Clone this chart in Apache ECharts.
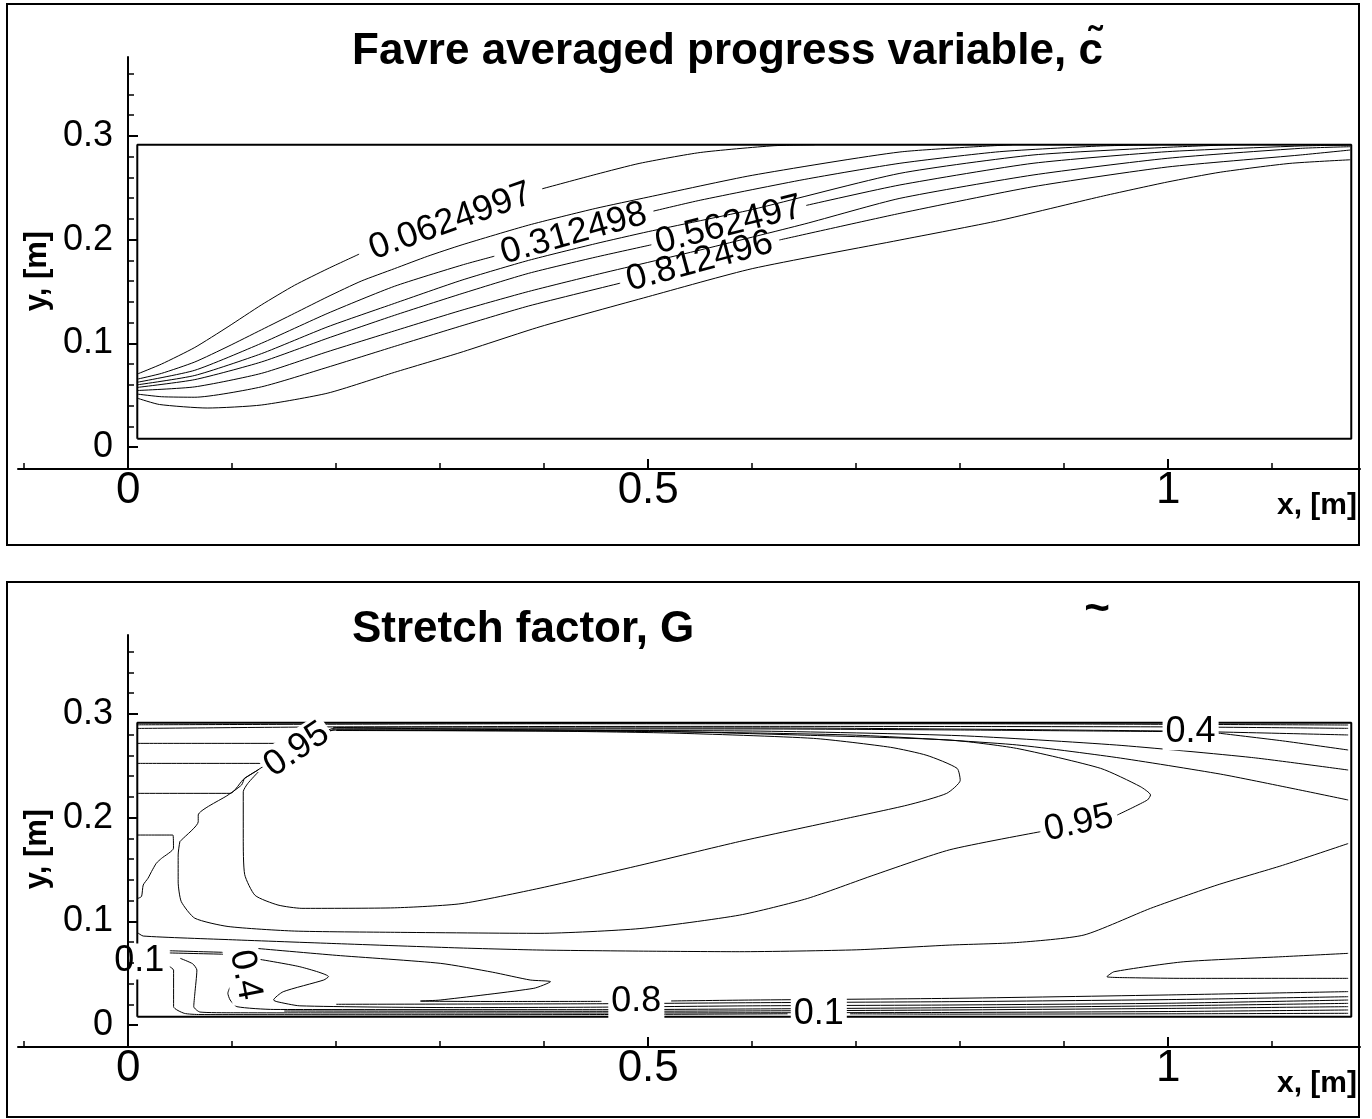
<!DOCTYPE html>
<html>
<head>
<meta charset="utf-8">
<script src="https://cdn.jsdelivr.net/npm/echarts@6.0.0/dist/echarts.min.js"></script>
<style>
  html, body { margin: 0; padding: 0; background: #fff; }
  #chart { width: 1372px; height: 1119px; }
</style>
</head>
<body>
<div id="chart"></div>
<script>
// ---------------- axes ----------------
const xRange = [-0.106, 1.1844];
const yRange = [-0.0212, 0.3761];
const xMajorTicks = [0, 0.5, 1];
const xMinorTicks = [-0.1, 0.1, 0.2, 0.3, 0.4, 0.6, 0.7, 0.8, 0.9, 1.1];
const yMajorTicks = [0, 0.1, 0.2, 0.3];
const yMinorTicks = [0.02, 0.04, 0.06, 0.08, 0.12, 0.14, 0.16, 0.18, 0.22, 0.24, 0.26, 0.28, 0.32, 0.34, 0.36];

// computational domain (channel walls), metres
const domainX = [0.0087, 1.176];
const domainY = [0.008, 0.2915];

// ---------------- Favre averaged progress variable: iso-lines ----------------
// each iso-line is a list of segments; a gap between segments holds its label
const cLine1 = [
  [[0.009,0.0705],[0.032,0.080],[0.064,0.096],[0.096,0.116],[0.128,0.137],[0.160,0.156],[0.192,0.172],[0.222,0.186]],
  [[0.398,0.249],[0.45,0.263],[0.492,0.2736],[0.55,0.284],[0.62,0.2905],[0.66,0.2915]]
];
const cLine2 = [
  [[0.009,0.0655],[0.032,0.071],[0.064,0.082],[0.096,0.097],[0.128,0.113],[0.160,0.129],[0.192,0.145],[0.224,0.160],[0.256,0.172],[0.288,0.184],[0.321,0.195],[0.385,0.214],[0.449,0.230],[0.5,0.241],[0.6,0.262],[0.742,0.2845],[0.85,0.2915]]
];
const cLine3 = [
  [[0.009,0.0625],[0.064,0.074],[0.128,0.100],[0.192,0.129],[0.256,0.155],[0.321,0.1755],[0.352,0.184]],
  [[0.505,0.2275],[0.55,0.238],[0.65,0.258],[0.742,0.2736],[0.838,0.2848],[0.935,0.2903],[0.99,0.2915]]
];
const cLine4 = [
  [[0.009,0.060],[0.064,0.069],[0.128,0.090],[0.192,0.116],[0.256,0.1385],[0.321,0.161],[0.385,0.180],[0.449,0.196],[0.5,0.2077],[0.6,0.229],[0.742,0.2639],[0.87,0.2816],[0.999,0.289],[1.06,0.2915]]
];
const cLine5 = [
  [[0.009,0.0575],[0.064,0.065],[0.128,0.082],[0.192,0.105],[0.256,0.127],[0.321,0.148],[0.385,0.1675],[0.449,0.183],[0.503,0.195]],
  [[0.652,0.233],[0.742,0.2527],[0.870,0.2736],[0.999,0.2848],[1.127,0.2903],[1.175,0.2912]]
];
const cLine6 = [
  [[0.009,0.0545],[0.064,0.058],[0.128,0.071],[0.192,0.092],[0.256,0.112],[0.321,0.132],[0.385,0.150],[0.449,0.166],[0.55,0.190],[0.65,0.215],[0.742,0.2398],[0.870,0.2623],[0.999,0.2784],[1.127,0.288],[1.175,0.2896]]
];
const cLine7 = [
  [[0.009,0.051],[0.032,0.0485],[0.064,0.048],[0.128,0.058],[0.192,0.077],[0.256,0.097],[0.321,0.117],[0.385,0.136],[0.473,0.158]],
  [[0.626,0.1996],[0.742,0.2253],[0.870,0.251],[0.999,0.270],[1.127,0.2816],[1.175,0.2864]]
];
const cLine8 = [
  [[0.009,0.047],[0.03,0.041],[0.076,0.0376],[0.128,0.0405],[0.192,0.052],[0.256,0.072],[0.319,0.091],[0.396,0.116],[0.5,0.145],[0.6,0.172],[0.742,0.1996],[0.838,0.2185],[0.935,0.2415],[0.999,0.2555],[1.05,0.265],[1.117,0.2735],[1.175,0.277]]
];
const cLines = [cLine1, cLine2, cLine3, cLine4, cLine5, cLine6, cLine7, cLine8];
const cLabels = [
  { text: '0.0624997', line: cLine1, gap: 0 },
  { text: '0.312498',  line: cLine3, gap: 0 },
  { text: '0.562497',  line: cLine5, gap: 0 },
  { text: '0.812496',  line: cLine7, gap: 0 }
];

// ---------------- Stretch factor: iso-lines ----------------
// bands hugging the upper wall
const gTopA = [[[0.009,0.2895],[0.4,0.2905],[0.8,0.2905],[1.173,0.2893]]];
const gTopB = [[[0.009,0.2860],[0.2,0.2875],[0.6,0.288],[1.0,0.2875],[1.173,0.2861]]];
const gTopC = [[[0.009,0.2716],[0.16,0.2716],[0.2,0.2865],[0.6,0.2865],[1.0,0.2835],[1.173,0.2797]]];
const gTopD = [
  [[0.009,0.2523],[0.15,0.2523],[0.2,0.2855],[0.6,0.2855],[0.8,0.2845],[0.995,0.2830]],
  [[1.048,0.2815],[1.11,0.2740],[1.173,0.2652]]
];
const gTopE = [[[0.009,0.2234],[0.098,0.2234],[0.112,0.238],[0.2,0.2845],[0.6,0.2835],[0.8,0.279],[0.95,0.270],[1.08,0.258],[1.173,0.2459]]];
const gTopF = [[[0.2,0.2840],[0.5,0.283],[0.7,0.2795],[0.85,0.2705],[0.95,0.258],[1.05,0.242],[1.12,0.228],[1.173,0.217]]];
const gPocket = [[[0.009,0.1832],[0.043,0.1832],[0.0435,0.1705],[0.032,0.1607],[0.027,0.156],[0.0224,0.148],[0.019,0.1415],[0.0144,0.135],[0.0128,0.124],[0.009,0.122]]];
// core region
const gInner = [[[0.125,0.244],[0.115,0.233],[0.1106,0.225],[0.1106,0.18],[0.112,0.145],[0.122,0.125],[0.144,0.1157],[0.167,0.1125],[0.256,0.113],[0.32,0.117],[0.396,0.132],[0.492,0.154],[0.588,0.177],[0.685,0.198],[0.749,0.212],[0.787,0.2234],[0.80,0.236],[0.797,0.2475],[0.768,0.260],[0.733,0.2678],[0.659,0.2764],[0.524,0.2815],[0.396,0.2835],[0.2,0.2845]]];
const gOuter = [
  [[0.197,0.287],[0.3,0.2855],[0.5,0.2835],[0.65,0.2795],[0.79,0.2748],[0.854,0.2668],[0.935,0.2475],[0.973,0.230],[0.983,0.2218],[0.98,0.217],[0.951,0.2025]],
  [[0.877,0.1864],[0.79,0.169],[0.717,0.1446],[0.653,0.122],[0.588,0.106],[0.492,0.093],[0.396,0.0884],[0.256,0.0894],[0.160,0.0906],[0.096,0.095],[0.064,0.103],[0.051,0.119],[0.048,0.138],[0.048,0.164],[0.0497,0.177],[0.0513,0.1785],[0.0673,0.196],[0.0673,0.2025],[0.096,0.2218],[0.109,0.2315],[0.112,0.2379],[0.125,0.2459]]
];
const gMid = [[[0.009,0.089],[0.0144,0.0858],[0.1,0.0822],[0.2,0.0785],[0.319,0.0743],[0.396,0.0723],[0.5,0.0712],[0.588,0.0707],[0.7,0.0725],[0.79,0.0771],[0.854,0.0795],[0.919,0.0868],[0.983,0.1125],[1.047,0.135],[1.11,0.154],[1.173,0.175]]];
// lower wall: lines leaving the wall label and turning along the lower wall
const gLA = [[[0.040,0.0716],[0.095,0.0700]]];
const gLB = [[[0.040,0.0695],[0.095,0.0682]]];
const gV1 = [
  [[0.040,0.0562],[0.0436,0.053],[0.0436,0.0177],[0.0538,0.0113],[0.069,0.0101],[0.3,0.0099],[0.45,0.0101],[0.634,0.0108]],
  [[0.694,0.0108],[0.79,0.0105],[1.0,0.0108],[1.173,0.0113]]
];
const gV2 = [[[0.050,0.0643],[0.062,0.059],[0.066,0.053],[0.064,0.030],[0.063,0.0177],[0.069,0.0125],[0.101,0.0118],[0.45,0.0116],[0.6,0.0118],[0.79,0.0121],[1.0,0.013],[1.173,0.0145]]];
const gE2 = [[[0.15,0.0135],[0.45,0.0132],[0.6,0.0136],[0.79,0.0145],[1.0,0.016],[1.173,0.0177]]];
const gL4 = [[[0.098,0.037],[0.0958,0.0306],[0.098,0.0241],[0.1045,0.0177],[0.14,0.0150],[0.45,0.0148],[0.6,0.0155],[0.79,0.0167],[1.0,0.0185],[1.173,0.0209]]];
const gT1 = [[[0.1205,0.0643],[0.165,0.0562],[0.1926,0.0466],[0.188,0.0434],[0.149,0.0321],[0.1397,0.0241],[0.143,0.0225],[0.165,0.0185],[0.319,0.0168],[0.45,0.0172],[0.6,0.0185],[0.79,0.0193],[1.0,0.021],[1.173,0.0241]]];
const gE1 = [[[0.2,0.0200],[0.45,0.0205],[0.6,0.0215],[0.79,0.0225],[1.0,0.0245],[1.173,0.0273]]];
const gT2 = [
  [[0.122,0.074],[0.2,0.0672],[0.3,0.0595],[0.35,0.051],[0.3865,0.0434],[0.406,0.0418],[0.39,0.0354],[0.30,0.0241],[0.281,0.0231],[0.35,0.0227],[0.455,0.0228]],
  [[0.522,0.0232],[0.6,0.0241],[0.79,0.0257],[1.0,0.029],[1.173,0.0322]]
];
const gRight = [[[1.173,0.0691],[1.11,0.0659],[1.015,0.061],[0.948,0.0514],[0.941,0.0466],[0.97,0.0455],[1.015,0.0450],[1.173,0.0450]]];
const gLines = [gTopA, gTopB, gTopC, gTopD, gTopE, gTopF, gPocket, gInner, gOuter, gMid,
                gLA, gLB, gV1, gV2, gE2, gL4, gT1, gE1, gT2, gRight];
const gLabels = [
  { text: '0.95', at: [0.162,0.2655], rotate: 34 },
  { text: '0.95', line: gOuter, gap: 0 },
  { text: '0.4',  line: gTopD, gap: 0, rotate: 0 },
  { text: '0.1',  at: [0.0106,0.0612], rotate: 0 },
  { text: '0.4',  at: [0.1125,0.0482], rotate: -79 },
  { text: '0.8',  line: gT2, gap: 0 },
  { text: '0.1',  line: gV1, gap: 0 }
];

// ---------------- drawing ----------------
const FONT = "'Liberation Sans', Arial, Helvetica, sans-serif";
const GRID_LEFT = 18, GRID_W = 1342, GRID_H = 412;
const grids = [
  { left: GRID_LEFT, top: 57, width: GRID_W, height: GRID_H },
  { left: GRID_LEFT, top: 635, width: GRID_W, height: GRID_H }
];
const pxPerX = GRID_W / (xRange[1] - xRange[0]);
const pxPerY = GRID_H / (yRange[1] - yRange[0]);
// the vertical axis stands at x = 0 inside the plotting area
const yAxisOffset = -Math.round(-xRange[0] * pxPerX);

function fmt(v) { return String(+v.toFixed(3)); }

const xAxes = [], yAxes = [];
grids.forEach((g, gi) => {
  xAxes.push({
    gridIndex: gi, type: 'value', min: xRange[0], max: xRange[1], position: 'bottom',
    axisLine: { onZero: false, lineStyle: { color: '#000', width: 2 } },
    axisTick: { inside: true, length: 10, customValues: xMajorTicks, lineStyle: { color: '#000', width: 2 } },
    axisLabel: { customValues: xMajorTicks, formatter: fmt, fontSize: 44, fontFamily: FONT, color: '#000', margin: 0 },
    splitLine: { show: false }
  });
  xAxes.push({
    gridIndex: gi, type: 'value', min: xRange[0], max: xRange[1], position: 'bottom',
    axisLine: { show: false, onZero: false },
    axisTick: { inside: true, length: 6, customValues: xMinorTicks, lineStyle: { color: '#000', width: 1.5 } },
    axisLabel: { show: false },
    splitLine: { show: false }
  });
  yAxes.push({
    gridIndex: gi, type: 'value', min: yRange[0], max: yRange[1], position: 'left', offset: yAxisOffset, z: 20,
    axisLine: { onZero: false, lineStyle: { color: '#000', width: 2 } },
    axisTick: { inside: true, length: 10, customValues: yMajorTicks, lineStyle: { color: '#000', width: 2 } },
    axisLabel: { customValues: yMajorTicks, formatter: fmt, fontSize: 36, fontFamily: FONT, color: '#000', margin: 15 },
    splitLine: { show: false }
  });
  yAxes.push({
    gridIndex: gi, type: 'value', min: yRange[0], max: yRange[1], position: 'left', offset: yAxisOffset, z: 20,
    axisLine: { show: false, onZero: false },
    axisTick: { inside: true, length: 6, customValues: yMinorTicks, lineStyle: { color: '#000', width: 1.5 } },
    axisLabel: { show: false },
    splitLine: { show: false }
  });
});

const series = [];
function addLine(points, gi, width, z) {
  series.push({
    type: 'line', xAxisIndex: gi * 2, yAxisIndex: gi * 2, data: points,
    symbol: 'none', smooth: 0.2, silent: true, animation: false, z: z || 2,
    lineStyle: { color: '#000', width: width || 1 }
  });
}
function addContours(lines, gi) {
  lines.forEach(line => line.forEach(seg => addLine(seg, gi, 1)));
}
function labelItem(l) {
  let at = l.at, rot = l.rotate;
  let a = l.from, b = l.to;
  if (l.line) {
    const segA = l.line[l.gap], segB = l.line[l.gap + 1];
    a = segA[segA.length - 1];
    b = segB[0];
  }
  if (!at) at = [(a[0] + b[0]) / 2, (a[1] + b[1]) / 2];
  if (rot == null) {
    rot = Math.atan2((b[1] - a[1]) * pxPerY, (b[0] - a[0]) * pxPerX) * 180 / Math.PI;
    if (rot > 90) rot -= 180;
    if (rot < -90) rot += 180;
  }
  return { value: at, label: { formatter: l.text, rotate: rot } };
}
function addLabels(labels, gi, boxed) {
  series.push({
    type: 'scatter', xAxisIndex: gi * 2, yAxisIndex: gi * 2, silent: true, animation: false, z: 10,
    symbol: 'circle', symbolSize: 1, itemStyle: { color: 'rgba(0,0,0,0)' },
    data: labels.map(labelItem),
    label: {
      show: true, position: 'inside', fontSize: 36, fontFamily: FONT, color: '#000',
      textBorderWidth: 0, textBorderColor: 'transparent', opacity: 1,
      backgroundColor: boxed ? '#fff' : 'transparent', padding: boxed ? [0, 3] : 0
    }
  });
}
function addDomain(gi) {
  addLine([[domainX[0], domainY[0]], [domainX[1], domainY[0]], [domainX[1], domainY[1]],
           [domainX[0], domainY[1]], [domainX[0], domainY[0]]], gi, 2, 3);
  series[series.length - 1].smooth = false;
}

addContours(cLines, 0);
addDomain(0);
addLabels(cLabels, 0, false);
addContours(gLines, 1);
addDomain(1);
addLabels(gLabels, 1, true);

function txt(x, y, text, size, opts) {
  return Object.assign({
    type: 'text', x, y, silent: true,
    style: Object.assign({ text, fontSize: size, fontFamily: FONT, fontWeight: 'bold', fill: '#000',
      align: 'left', verticalAlign: 'middle' }, (opts && opts.style) || {})
  }, opts && opts.el || {});
}

const graphic = [
  { type: 'rect', silent: true, shape: { x: 7, y: 4, width: 1352, height: 541 }, style: { fill: 'none', stroke: '#000', lineWidth: 2 } },
  { type: 'rect', silent: true, shape: { x: 7, y: 582, width: 1352, height: 535 }, style: { fill: 'none', stroke: '#000', lineWidth: 2 } },
  txt(352, 52, 'Favre averaged progress variable, c\u0303', 44),
  txt(352, 630, 'Stretch factor, G', 44),
  txt(1097, 610, '~', 44, { style: { align: 'center' } }),
  txt(1277, 506, 'x, [m]', 30),
  txt(1277, 1084, 'x, [m]', 30),
  txt(37, 271, 'y, [m]', 31, { style: { align: 'center' }, el: { rotation: Math.PI / 2 } }),
  txt(37, 849, 'y, [m]', 31, { style: { align: 'center' }, el: { rotation: Math.PI / 2 } })
];

const chart = echarts.init(document.getElementById('chart'), null, { renderer: 'canvas' });
chart.setOption({
  animation: false,
  backgroundColor: '#fff',
  grid: grids.map(g => Object.assign({ containLabel: false, outerBoundsMode: 'none' }, g)),
  xAxis: xAxes,
  yAxis: yAxes,
  series,
  graphic
});
</script>
</body>
</html>
